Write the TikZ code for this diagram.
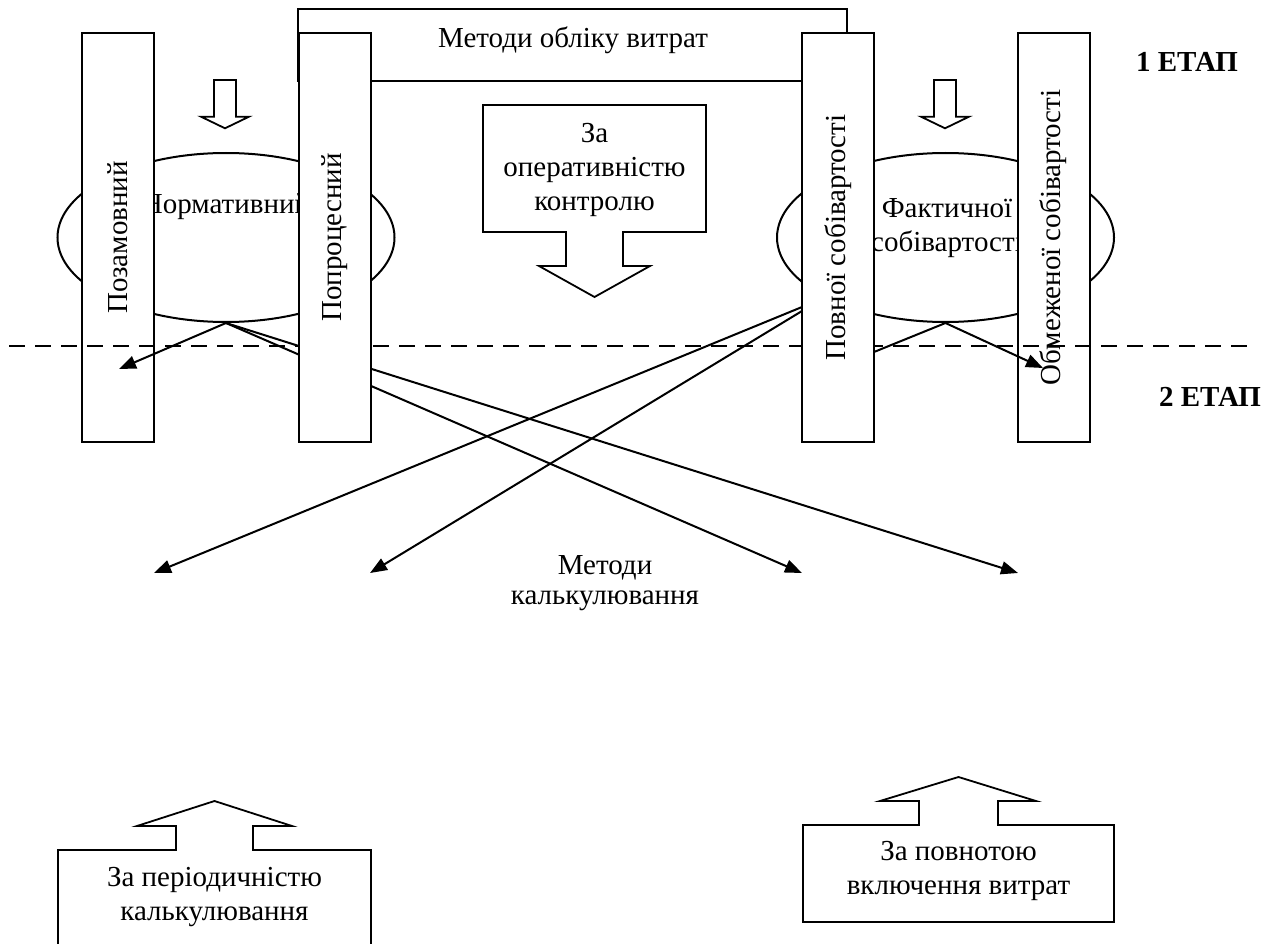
\documentclass[tikz,border=0pt]{standalone}
\usepackage{fontspec}
\setmainfont{Liberation Serif}
\usetikzlibrary{shapes.geometric, arrows.meta, positioning, calc}

\begin{document}
\begin{tikzpicture}[
        x=1pt, y=-1pt,
        line width=2pt,
        every node/.style={font=\fontsize{29}{34}\selectfont},
        vbar/.style={rectangle, draw, fill=white, rotate=90,
            minimum width=409pt, minimum height=72pt, inner sep=0pt},
        oval/.style={ellipse, draw, fill=white,
            minimum width=337pt, minimum height=169pt},
        txt/.style={align=center, inner sep=0pt},
        stage/.style={font=\fontsize{29}{34}\selectfont\bfseries},
        arrow/.style={-{Triangle[length=17pt, width=13pt]}},
        hollow/.style={draw, fill=white, line width=1.8pt}
        ]
        \useasboundingbox (0,0) rectangle (1274,944);
        \clip (0,0) rectangle (1274,944);

        \node[draw, fill=white, minimum width=549pt, minimum height=72pt] (obl) at (572.5,45) {};
        \node[txt] (obltxt) at (573,40) {Методи обліку витрат};

        \path[hollow] (214,80) -- (236,80) -- (236,116.7) -- (249,116.7) -- (225,128.3)
            -- (201,116.7) -- (214,116.7) -- cycle;
        \path[hollow] (934,80) -- (956,80) -- (956,116.7) -- (969,116.7) -- (945,128.3)
            -- (921,116.7) -- (934,116.7) -- cycle;

        \node[oval] (norm) at (226,237.5) {};
        \node[txt] (normtxt) at (226,207) {Нормативний};
        \node[oval] (fact) at (945.5,237.5) {};
        \node[txt] (facttxt) at (947,228) {Фактичної\\собівартості};

        \node[vbar] (pozam) at (118,237.5) {Позамовний};
        \node[vbar] (obmezh) at (1053.5,237.5) {Обмеженої собівартості};

        \path[hollow] (483,105) -- (706,105) -- (706,232) -- (623,232) -- (623,266) -- (650,266)
            -- (594.5,297) -- (539,266) -- (566,266) -- (566,232) -- (483,232) -- cycle;
        \node[txt] (operat) at (594.5,170) {За\\оперативністю\\контролю};

        \draw[dash pattern=on 16pt off 10pt] (9,346) -- (1250,346);

        \coordinate (kalk1) at (154,573);
        \coordinate (kalk2) at (370,573);
        \coordinate (kalk3) at (802,573);
        \coordinate (kalk4) at (1018,573);
        \coordinate (povnA) at (802,307);
        \coordinate (povnB) at (802,311);
        \coordinate (povnC) at (874,352);

        \draw[arrow] (norm.south) -- (kalk3);
        \draw[arrow] (norm.south) -- (kalk4);
        \draw[arrow] (povnA) -- (kalk1);
        \draw[arrow] (povnB) -- (kalk2);
        \draw (fact.south) -- (povnC);

        \node[vbar] (poproc) at (334.5,237.5) {Попроцесний};
        \node[vbar] (povn) at (838,237.5) {Повної собівартості};

        \coordinate (pozamin) at (119,369);
        \coordinate (obmezhin) at (1043,368);
        \draw[arrow] (norm.south) -- (pozamin);
        \draw[arrow] (fact.south) -- (obmezhin);

        \node[stage] (etap1) at (1187,62) {1 ЕТАП};
        \node[stage] (etap2) at (1210,397) {2 ЕТАП};

        \node[txt, font=\fontsize{29}{30}\selectfont] (kalk) at (605,583) {Методи\\калькулювання};

        \path[hollow] (58,960) -- (58,850) -- (176,850) -- (176,826) -- (137,826) -- (214.5,801)
            -- (292,826) -- (253,826) -- (253,850) -- (371,850) -- (371,960) -- cycle;
        \node[txt] (period) at (214.5,897) {За періодичністю\\калькулювання};

        \path[hollow] (803,922) -- (803,825) -- (919,825) -- (919,801) -- (880,801) -- (958.5,777)
            -- (1036,801) -- (998,801) -- (998,825) -- (1114,825) -- (1114,922) -- cycle;
        \node[txt] (povnota) at (958.5,871) {За повнотою\\включення витрат};
    \end{tikzpicture}
\end{document}
